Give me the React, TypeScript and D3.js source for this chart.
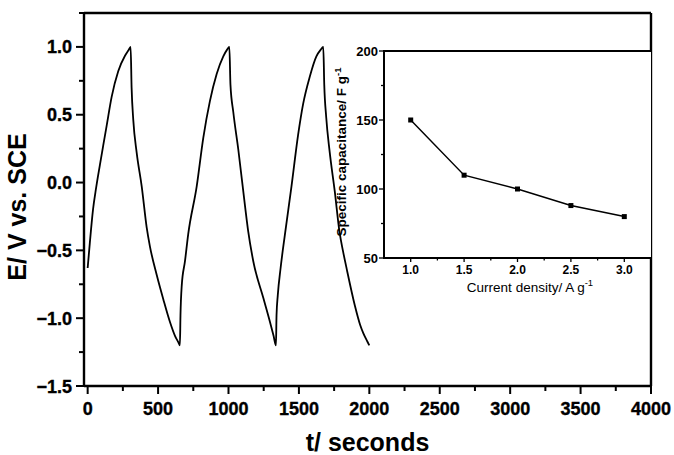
import React from "react";
import * as d3 from "d3";

// Main chart: galvanostatic charge–discharge curve (time in s, potential in V)
const timeS: number[] = [
  0, 15, 38, 60, 87, 110, 135, 170, 217, 265, 290, 305,
  312, 324, 348, 384, 419, 442, 490, 537, 585, 620, 645, 655,
  659, 668, 691, 714, 774, 821, 868, 916, 963, 990, 1006,
  1014, 1034, 1070, 1117, 1140, 1176, 1247, 1295, 1320, 1337,
  1341, 1350, 1370, 1401, 1447, 1494, 1530, 1577, 1624, 1655, 1673,
  1680, 1694, 1718, 1754, 1789, 1812, 1840, 1898, 1935, 1957, 1985, 2000,
];
const potentialV: number[] = [
  -0.63, -0.45, -0.2, -0.04, 0.13, 0.27, 0.42, 0.63, 0.82, 0.935, 0.975, 1.0,
  0.7, 0.46, 0.22, -0.03, -0.33, -0.47, -0.68, -0.86, -1.03, -1.13, -1.18, -1.2,
  -0.98, -0.76, -0.58, -0.38, -0.03, 0.33, 0.6, 0.8, 0.93, 0.98, 1.0,
  0.72, 0.52, 0.24, -0.17, -0.36, -0.58, -0.85, -1.03, -1.13, -1.2,
  -0.98, -0.83, -0.63, -0.38, -0.03, 0.35, 0.58, 0.78, 0.93, 0.98, 1.0,
  0.72, 0.48, 0.23, -0.06, -0.37, -0.5, -0.64, -0.91, -1.05, -1.11, -1.17, -1.2,
];

const mainXTicks: number[] = [0, 500, 1000, 1500, 2000, 2500, 3000, 3500, 4000];
const mainYTicks: number[] = [-1.5, -1.0, -0.5, 0.0, 0.5, 1.0];

// Inset: specific capacitance vs current density
const currentDensity: number[] = [1.0, 1.5, 2.0, 2.5, 3.0];
const capacitance: number[] = [150, 110, 100, 88, 80];
const insetXTicks: number[] = [1.0, 1.5, 2.0, 2.5, 3.0];
const insetYTicks: number[] = [50, 100, 150, 200];

const FONT = "'Liberation Sans', Arial, Helvetica, sans-serif";

export default function App() {
  const W = 674, H = 455;
  const x = d3.scaleLinear().domain([-26, 4000]).range([84, 651]);
  const y = d3.scaleLinear().domain([-1.5, 1.25]).range([386, 13]);
  const ix = d3.scaleLinear().domain([0.75, 3.25]).range([384, 651]);
  const iy = d3.scaleLinear().domain([50, 200]).range([258, 51]);

  const pts = timeS.map((t, i) => [t, potentialV[i]] as [number, number]);
  const line = d3
    .line<[number, number]>()
    .x((d) => x(d[0]))
    .y((d) => y(d[1]))
    .curve(d3.curveMonotoneX);

  const ipts = currentDensity.map((c, i) => [c, capacitance[i]] as [number, number]);
  const iline = d3
    .line<[number, number]>()
    .x((d) => ix(d[0]))
    .y((d) => iy(d[1]));

  const [x0, x1] = x.range();
  const [y0, y1] = y.range();
  const [ix0, ix1] = ix.range();
  const [iy0, iy1] = iy.range();

  const mainXMinor = d3.range(250, 4000, 500);
  const mainYMinor = d3.range(-1.25, 1.26, 0.5);
  const insetXMinor = [1.25, 1.75, 2.25, 2.75];
  const insetYMinor = [75, 125, 175];

  const fmt1 = d3.format(".1f");

  return (
    <svg width={W} height={H} style={{ position: "absolute", left: 0, top: 0, background: "#fff" }}>
      <rect x={0} y={0} width={W} height={H} fill="#fff" />
      {/* main curve */}
      <path d={line(pts) || ""} fill="none" stroke="#000" strokeWidth={1.8} strokeLinejoin="round" />

      {/* main frame */}
      <line x1={x0} x2={x1} y1={y1} y2={y1} stroke="#000" strokeWidth={2.4} />
      <line x1={x1} x2={x1} y1={y1} y2={y0} stroke="#000" strokeWidth={2.4} />
      <line x1={x0} x2={x1 + 1} y1={y0} y2={y0} stroke="#000" strokeWidth={2.4} />
      <line x1={x0} x2={x0} y1={y1 - 1} y2={y0 + 1} stroke="#000" strokeWidth={2.4} />

      {/* main x ticks */}
      {mainXTicks.map((t) => (
        <g key={"mx" + t}>
          <line x1={x(t)} x2={x(t)} y1={y0} y2={y0 + 8} stroke="#000" strokeWidth={2} />
          <text x={x(t)} y={415} textAnchor="middle" fontFamily={FONT} fontWeight="bold" fontSize={18}
            stroke="#000" strokeWidth={0.35}>
            {t}
          </text>
        </g>
      ))}
      {mainXMinor.map((t) => (
        <line key={"mxm" + t} x1={x(t)} x2={x(t)} y1={y0} y2={y0 + 5} stroke="#000" strokeWidth={2} />
      ))}
      {/* main y ticks */}
      {mainYTicks.map((v) => (
        <g key={"my" + v}>
          <line x1={x0 - 8} x2={x0} y1={y(v)} y2={y(v)} stroke="#000" strokeWidth={2} />
          <text x={72} y={y(v) + 6.5} textAnchor="end" fontFamily={FONT} fontWeight="bold" fontSize={18}
            stroke="#000" strokeWidth={0.35}>
            {fmt1(v)}
          </text>
        </g>
      ))}
      {mainYMinor.map((v) => (
        <line key={"mym" + v} x1={x0 - 5} x2={x0} y1={y(v)} y2={y(v)} stroke="#000" strokeWidth={2} />
      ))}

      {/* main axis titles */}
      <text
        transform={`translate(26,207) rotate(-90)`}
        textAnchor="middle"
        fontFamily={FONT}
        fontWeight="bold"
        fontSize={25}
      >
        E/ V vs. SCE
      </text>
      <text x={367.5} y={451} textAnchor="middle" fontFamily={FONT} fontWeight="bold" fontSize={25}>
        t/ seconds
      </text>

      {/* inset */}
      <rect x={ix0} y={iy1} width={ix1 - ix0} height={iy0 - iy1} fill="#fff" />
      <path d={iline(ipts) || ""} fill="none" stroke="#000" strokeWidth={1.5} />
      {ipts.map((p, i) => (
        <rect key={"sq" + i} x={ix(p[0]) - 2.5} y={iy(p[1]) - 2.5} width={5} height={5} fill="#000" />
      ))}
      <line x1={ix0} x2={ix1} y1={iy1} y2={iy1} stroke="#000" strokeWidth={2} />
      <line x1={ix0} x2={ix1} y1={iy0} y2={iy0} stroke="#000" strokeWidth={2} />
      <line x1={ix0} x2={ix0} y1={iy1 - 1} y2={iy0 + 1} stroke="#000" strokeWidth={2} />

      {insetXTicks.map((c) => (
        <g key={"ix" + c}>
          <line x1={ix(c)} x2={ix(c)} y1={iy0} y2={iy0 + 4} stroke="#000" strokeWidth={1.3} />
          <text x={ix(c)} y={274} textAnchor="middle" fontFamily={FONT} fontWeight="bold" fontSize={12}>
            {fmt1(c)}
          </text>
        </g>
      ))}
      {insetXMinor.map((c) => (
        <line key={"ixm" + c} x1={ix(c)} x2={ix(c)} y1={iy0} y2={iy0 + 2.5} stroke="#000" strokeWidth={1.3} />
      ))}
      {insetYTicks.map((v) => (
        <g key={"iy" + v}>
          <line x1={ix0 - 5} x2={ix0} y1={iy(v)} y2={iy(v)} stroke="#000" strokeWidth={1.3} />
          <text x={378} y={iy(v) + 4.5} textAnchor="end" fontFamily={FONT} fontWeight="bold" fontSize={13}>
            {v}
          </text>
        </g>
      ))}
      {insetYMinor.map((v) => (
        <line key={"iym" + v} x1={ix0 - 3} x2={ix0} y1={iy(v)} y2={iy(v)} stroke="#000" strokeWidth={1.3} />
      ))}

      <text x={530} y={292} textAnchor="middle" fontFamily={FONT} fontSize={13.5}>
        Current density/ A g
        <tspan fontSize={9.5} dy={-6}>-1</tspan>
      </text>
      <text
        transform={`translate(346,152) rotate(-90)`}
        textAnchor="middle"
        fontFamily={FONT}
        fontWeight="bold"
        fontSize={13.5}
      >
        Specific capacitance/ F g
        <tspan fontSize={9.5} dy={-5}>-1</tspan>
      </text>
    </svg>
  );
}
